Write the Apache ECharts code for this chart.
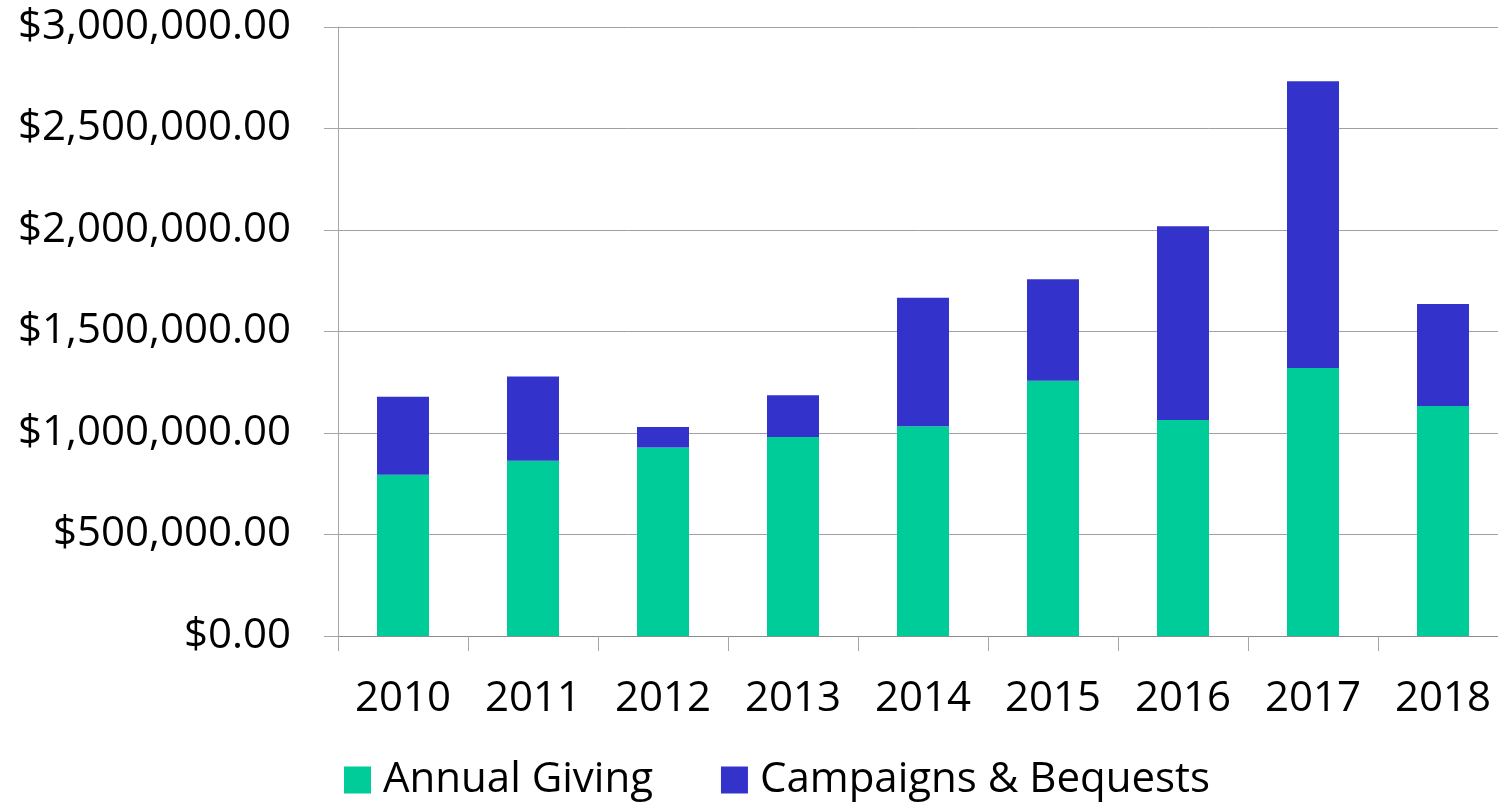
<!DOCTYPE html>
<html>
<head>
<meta charset="utf-8">
<script src="https://cdn.jsdelivr.net/npm/echarts@6/dist/echarts.min.js"></script>
<style>
html,body{margin:0;padding:0;background:#fff;}
#chart{width:1498px;height:802px;}
</style>
</head>
<body>
<div id="chart"></div>
<script>
const categories = ['2010','2011','2012','2013','2014','2015','2016','2017','2018'];
const annualGiving = [794000, 863000, 929000, 980000, 1033000, 1258000, 1064000, 1320000, 1133000];
const campaignsBequests = [385000, 415000, 101000, 206000, 633000, 500000, 955000, 1413000, 502000];
const seriesNames = ['Annual Giving', 'Campaigns & Bequests'];

const FONT = '"Open Sans", "Liberation Sans", sans-serif';
const chart = echarts.init(document.getElementById('chart'), null, {renderer:'canvas'});
chart.setOption({
  animation: false,
  backgroundColor: '#ffffff',
  grid: {left: 338, width: 1170, top: 27, height: 609, containLabel: false, outerBoundsMode: 'none'},
  legend: {
    data: seriesNames,
    left: 344, top: 759, padding: 0,
    itemWidth: 27, itemHeight: 27, itemGap: 68,
    icon: 'rect',
    textStyle: {fontFamily: FONT, fontSize: 42, color: '#000', padding: [0,0,0,7]}
  },
  xAxis: {
    type: 'category',
    data: categories,
    boundaryGap: true,
    axisLine: {show: true, lineStyle: {color: '#8c8c8c', width: 1}},
    axisTick: {show: true, length: 15, alignWithLabel: false, lineStyle: {color: '#a6a6a6'}},
    axisLabel: {fontFamily: FONT, fontSize: 42, color: '#000', margin: 42}
  },
  yAxis: {
    type: 'value',
    min: 0, max: 3000000, interval: 500000,
    axisLine: {show: true, lineStyle: {color: '#a6a6a6', width: 1}},
    axisTick: {show: true, length: 14, lineStyle: {color: '#a6a6a6'}},
    splitLine: {show: true, lineStyle: {color: '#a0a0a0', width: 1}},
    axisLabel: {
      fontFamily: FONT, fontSize: 42, color: '#000', margin: 47,
      formatter: v => '$' + v.toLocaleString('en-US', {minimumFractionDigits: 2, maximumFractionDigits: 2})
    }
  },
  series: [
    {name: seriesNames[0], type: 'bar', stack: 'total', data: annualGiving, barWidth: 52,
     itemStyle: {color: '#00CC99'}},
    {name: seriesNames[1], type: 'bar', stack: 'total', data: campaignsBequests, barWidth: 52,
     itemStyle: {color: '#3333CC'}}
  ]
});
</script>
</body>
</html>
